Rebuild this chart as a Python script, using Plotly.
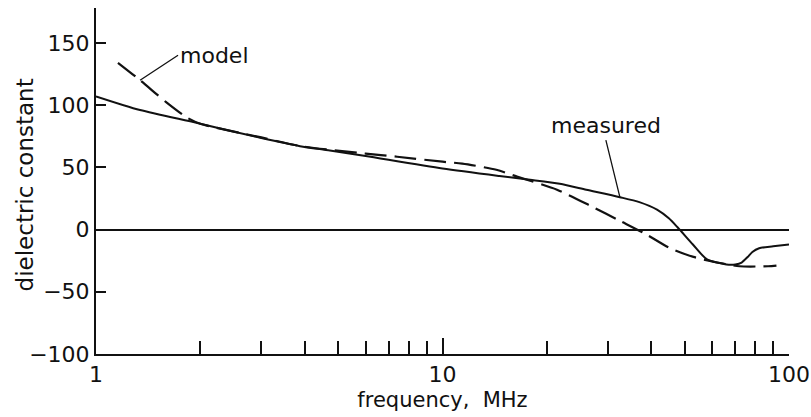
import math
import plotly.graph_objects as go

# measured (solid)
measured_f = [1, 1.34, 1.96, 3, 3.88, 4.73, 6, 10, 14.6, 17.9, 21.8, 26, 32.5, 37, 41.6, 45, 47.6, 52.8, 58, 66, 70, 73, 76, 78.4, 82, 90, 100]
measured_v = [107, 96, 85.6, 73.5, 67, 63.5, 59, 49, 43, 40, 36.8, 32, 26, 22, 16, 9, 2, -12, -24, -28, -28, -26.5, -22, -18, -15, -13.5, -12]

# model (dashed)
model_f = [1.157, 1.34, 1.6, 1.83, 2, 3, 3.9, 6, 7.4, 10, 11.4, 14.3, 16.4, 21.4, 27, 32.5, 38.8, 45, 53, 62, 72, 87, 92]
model_v = [134, 120, 102, 90, 85, 74, 67, 61, 58.5, 54.5, 53, 48, 42.5, 32, 18.4, 7, -4, -14.5, -22, -26.5, -29.5, -29.5, -29]

y_ticks = [-100, -50, 0, 50, 100, 150]
x_ticks = [1, 10, 100]
x_minor = [2, 3, 4, 5, 6, 7, 8, 9, 20, 30, 40, 50, 60, 70, 80, 90]

FONT = "DejaVu Sans"
BLACK = "#111111"

fig = go.Figure()
fig.add_trace(go.Scatter(x=measured_f, y=measured_v, mode="lines",
                         line=dict(color=BLACK, width=2, shape="spline", smoothing=0.7),
                         showlegend=False, hoverinfo="skip"))
fig.add_trace(go.Scatter(x=model_f, y=model_v, mode="lines",
                         line=dict(color=BLACK, width=2.2, dash="22px,8px", shape="spline", smoothing=0.7),
                         showlegend=False, hoverinfo="skip"))

fig.update_layout(
    width=811, height=417,
    margin=dict(l=96, r=22, t=8, b=63, autoexpand=False),
    paper_bgcolor="white", plot_bgcolor="white",
    font=dict(family=FONT, color=BLACK),
    xaxis=dict(type="log", range=[0, 2], showline=True, linecolor=BLACK, linewidth=2,
               automargin=False,
               ticks="inside", ticklen=16, tickwidth=1.5, tickcolor=BLACK,
               tickvals=x_ticks, ticktext=[str(v) for v in x_ticks],
               minor=dict(tickvals=x_minor, ticks="inside", ticklen=13, tickwidth=1.5, tickcolor=BLACK, showgrid=False),
               showgrid=False, zeroline=False,
               tickfont=dict(size=22, family=FONT, color=BLACK),
               title=dict(text="frequency,  MHz", font=dict(size=21, family=FONT, color=BLACK), standoff=6)),
    yaxis=dict(range=[-100, 178], showline=True, linecolor=BLACK, linewidth=2,
               automargin=False,
               ticks="inside", ticklen=10, tickwidth=1.5, tickcolor=BLACK,
               tickvals=y_ticks, showgrid=False,
               zeroline=True, zerolinecolor=BLACK, zerolinewidth=1.5,
               tickfont=dict(size=22, family=FONT, color=BLACK)),
)

# y-axis title placed as rotated text
fig.add_annotation(xref="paper", yref="paper", x=-0.1025, y=0.49,
                   text="dielectric constant", textangle=-90, showarrow=False,
                   xanchor="center", yanchor="middle",
                   font=dict(size=23, family=FONT, color=BLACK))

fig.add_annotation(x=math.log10(model_f[1]), y=model_v[1], xref="x", yref="y",
                   text="model", showarrow=True, arrowhead=0, arrowwidth=1.3, arrowcolor=BLACK,
                   ax=38, ay=-25, xanchor="left", yanchor="middle",
                   font=dict(size=22, family=FONT, color=BLACK))
fig.add_annotation(x=math.log10(measured_f[12]), y=measured_v[12], xref="x", yref="y",
                   text="measured", showarrow=True, arrowhead=0, arrowwidth=1.3, arrowcolor=BLACK,
                   ax=-14, ay=-57, xanchor="center", yanchor="bottom",
                   font=dict(size=22, family=FONT, color=BLACK))

fig.write_html("out.html")
